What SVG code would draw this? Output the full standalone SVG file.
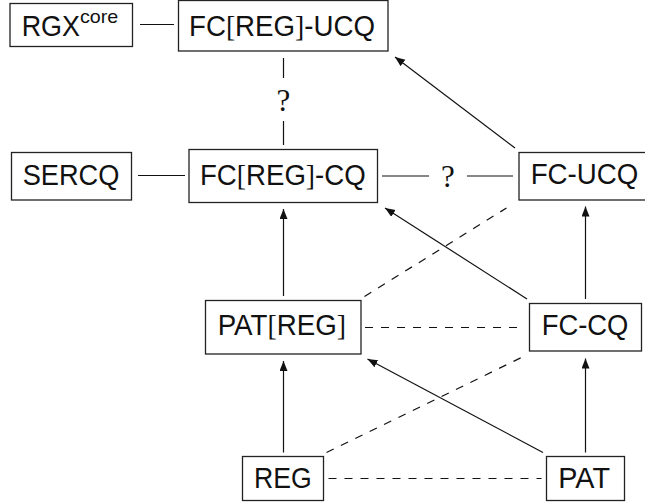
<svg xmlns="http://www.w3.org/2000/svg" width="645" height="503" viewBox="0 0 645 503">
<style>
.box{fill:#fff;stroke:#222;stroke-width:1.3}
.lbl{font-family:"Liberation Sans","DejaVu Sans",sans-serif;font-size:30px;fill:#111}
.br{font-family:"Liberation Serif","DejaVu Serif",serif;font-weight:normal}
.q{font-family:"Liberation Serif","DejaVu Serif",serif;font-size:31px;fill:#111;text-anchor:middle}
.ln{stroke:#111;stroke-width:1.2;fill:none}
.ds{stroke:#111;stroke-width:1.2;fill:none;stroke-dasharray:8 8}
.ar{stroke:#111;stroke-width:1.2;fill:none;marker-end:url(#ah)}
</style>
<defs>
<marker id="ah" markerUnits="userSpaceOnUse" markerWidth="11" markerHeight="9" refX="10" refY="4" orient="auto">
<path d="M0,0 L10,4 L0,8 z" fill="#111"/>
</marker>
</defs>
<rect width="645" height="503" fill="#fff"/>
<g id="connectors">
<line class="ln" x1="140" y1="24.5" x2="174" y2="24.5"/>
<line class="ln" x1="283.5" y1="58" x2="283.5" y2="78"/>
<text class="q" x="283.5" y="111">?</text>
<line class="ln" x1="283.5" y1="121" x2="283.5" y2="145"/>
<line class="ln" x1="138" y1="175.5" x2="185" y2="175.5"/>
<line class="ln" x1="382" y1="176" x2="429" y2="176"/>
<text class="q" x="448" y="186.5">?</text>
<line class="ln" x1="467" y1="176" x2="513" y2="176"/>
<line class="ar" x1="515" y1="148" x2="395" y2="57"/>
<line class="ar" x1="527" y1="299" x2="385" y2="208"/>
<line class="ar" x1="283.5" y1="296" x2="283.5" y2="209"/>
<line class="ar" x1="585.5" y1="299" x2="585.5" y2="206.5"/>
<line class="ar" x1="283.5" y1="452.5" x2="283.5" y2="361"/>
<line class="ar" x1="543" y1="452.5" x2="367.5" y2="359"/>
<line class="ar" x1="585.5" y1="452.5" x2="585.5" y2="358.5"/>
<line class="ds" x1="365" y1="327.5" x2="518.5" y2="327.5"/>
<line class="ds" x1="328.5" y1="478.5" x2="541.5" y2="478.5"/>
<line class="ds" x1="326.5" y1="452.5" x2="521.5" y2="357.5"/>
<line class="ds" x1="364.5" y1="296.5" x2="506.5" y2="208"/>
</g>
<g id="rgxcore">
<rect class="box" x="10" y="3.5" width="122.5" height="43"/>
<text class="lbl" x="21.7" y="36"><tspan textLength="58.3" lengthAdjust="spacingAndGlyphs">RGX</tspan><tspan font-size="19" dy="-13" textLength="38.3" lengthAdjust="spacingAndGlyphs">core</tspan></text>
</g>
<g id="fcreg-ucq">
<rect class="box" x="178.5" y="0.5" width="209.5" height="50.5"/>
<text class="lbl" x="189" y="36" textLength="186" lengthAdjust="spacingAndGlyphs">FC<tspan class="br">[</tspan>REG<tspan class="br">]</tspan>-UCQ</text>
</g>
<g id="sercq">
<rect class="box" x="11.5" y="152.5" width="120" height="47.5"/>
<text class="lbl" x="22.7" y="185" textLength="96.7" lengthAdjust="spacingAndGlyphs">SERCQ</text>
</g>
<g id="fcreg-cq">
<rect class="box" x="189" y="149.5" width="188.5" height="53"/>
<text class="lbl" x="200" y="185" textLength="165.7" lengthAdjust="spacingAndGlyphs">FC<tspan class="br">[</tspan>REG<tspan class="br">]</tspan>-CQ</text>
</g>
<g id="fc-ucq">
<rect class="box" x="519" y="152.5" width="131" height="47.5"/>
<text class="lbl" x="530.7" y="184" textLength="107.6" lengthAdjust="spacingAndGlyphs">FC-UCQ</text>
</g>
<g id="patreg">
<rect class="box" x="205.5" y="300.5" width="155.5" height="53.5"/>
<text class="lbl" x="217.7" y="334.5" textLength="128.3" lengthAdjust="spacingAndGlyphs">PAT<tspan class="br">[</tspan>REG<tspan class="br">]</tspan></text>
</g>
<g id="fc-cq">
<rect class="box" x="529.5" y="303.5" width="112" height="47.5"/>
<text class="lbl" x="541.7" y="335" textLength="86.7" lengthAdjust="spacingAndGlyphs">FC-CQ</text>
</g>
<g id="reg">
<rect class="box" x="242.5" y="456.5" width="81" height="44"/>
<text class="lbl" x="254" y="488" textLength="57.7" lengthAdjust="spacingAndGlyphs">REG</text>
</g>
<g id="pat">
<rect class="box" x="546.5" y="456.5" width="78" height="44"/>
<text class="lbl" x="558.3" y="488" textLength="51.7" lengthAdjust="spacingAndGlyphs">PAT</text>
</g>
</svg>
